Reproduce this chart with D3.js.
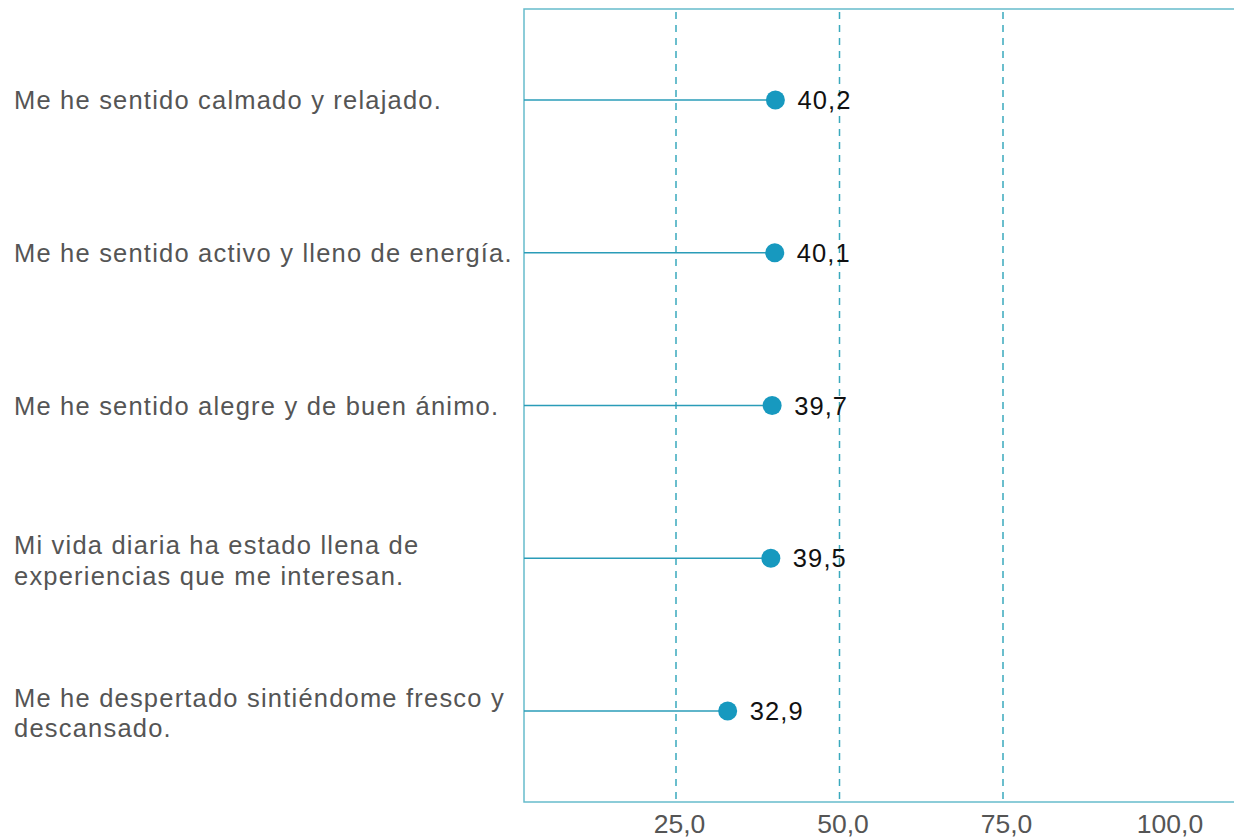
<!DOCTYPE html>
<html>
<head>
<meta charset="utf-8">
<script src="https://cdn.jsdelivr.net/npm/d3@7"></script>
<style>
html,body{margin:0;padding:0;background:#fff;}
svg{display:block;font-family:"Liberation Sans", Arial, sans-serif;}
</style>
</head>
<body>
<svg id="chart" width="1234" height="838"></svg>
<script>
const categories = [
  ["Me he sentido calmado y relajado."],
  ["Me he sentido activo y lleno de energía."],
  ["Me he sentido alegre y de buen ánimo."],
  ["Mi vida diaria ha estado llena de", "experiencias que me interesan."],
  ["Me he despertado sintiéndome fresco y", "descansado."]
];
const values = [40.2, 40.1, 39.7, 39.5, 32.9];
const gridValues = [25, 50, 75];
const tickValues = [25, 50, 75, 100];
const tickLabels = ["25,0", "50,0", "75,0", "100,0"];

const svg = d3.select("#chart");
const x = d3.scaleLinear().domain([0, 100]).range([512.5, 1166.5]);
const frameLeft = 524, frameTop = 9, frameBottom = 802;
const y = d3.scalePoint().domain(d3.range(categories.length)).range([frameTop, frameBottom]).padding(0.596);

// gridlines
svg.append("g").selectAll("line").data(gridValues).join("line")
  .attr("x1", d => x(d)).attr("x2", d => x(d))
  .attr("y1", frameTop + 3).attr("y2", frameBottom)
  .attr("stroke", "#3aa9bd").attr("stroke-width", 1.5)
  .attr("stroke-dasharray", "7,6");

// frame
svg.append("path")
  .attr("d", `M1240,${frameTop}H${frameLeft}V${frameBottom}H1240`)
  .attr("fill", "none").attr("stroke", "#67bccb").attr("stroke-width", 1.5);

// axis labels
const xAxis = d3.axisBottom(x).tickValues(tickValues).tickSize(0).tickPadding(0)
  .tickFormat((d, i) => tickLabels[i]);
const ax = svg.append("g").attr("transform", `translate(0,${frameBottom})`).call(xAxis);
ax.select(".domain").remove();
ax.selectAll("text").attr("y", 0).attr("dy", 0).attr("transform", "translate(3,31)")
  .attr("fill", "#555").style("font-size", "26.5px").style("font-family", "Liberation Sans, Arial, sans-serif");

// lollipops
const rows = svg.append("g").selectAll("g").data(values).join("g");
rows.append("line")
  .attr("x1", frameLeft).attr("x2", d => x(d))
  .attr("y1", (d, i) => y(i)).attr("y2", (d, i) => y(i))
  .attr("stroke", "#2a9cb8").attr("stroke-width", 1.5);
rows.append("circle")
  .attr("cx", d => x(d)).attr("cy", (d, i) => y(i)).attr("r", 9.5)
  .attr("fill", "#1799bf");
rows.append("text")
  .attr("x", d => x(d) + 22).attr("y", (d, i) => y(i) + 9)
  .attr("fill", "#111").style("font-size", "25.5px").style("letter-spacing", "1.1px")
  .text(d => d.toFixed(1).replace(".", ","));

// category labels
const labs = svg.append("g").selectAll("text").data(categories).join("text")
  .attr("x", 14).attr("fill", "#555").style("font-size", "25.5px").style("letter-spacing", "1.2px");
labs.each(function(lines, i) {
  const t = d3.select(this);
  const n = lines.length;
  lines.forEach((ln, j) => {
    const dy = n > 1 ? (j === 0 ? -4 : 26.5) : 9;
    t.append("tspan").attr("x", 14).attr("y", y(i) + dy).text(ln);
  });
});
</script>
</body>
</html>
